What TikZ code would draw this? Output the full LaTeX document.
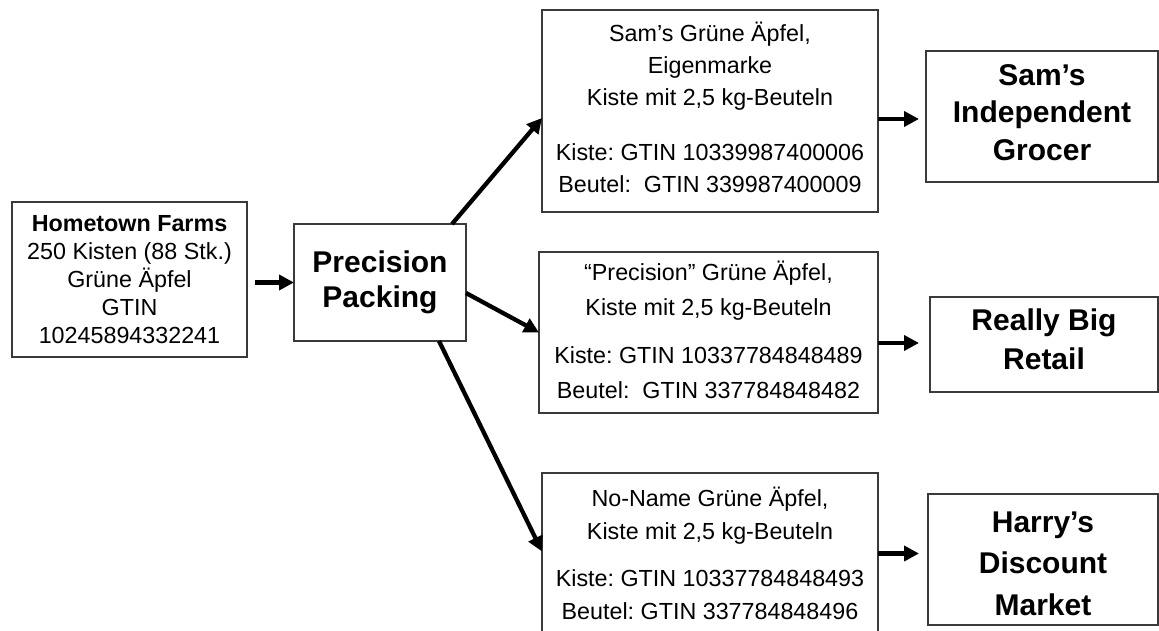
\documentclass[tikz,border=0pt]{standalone}
\usepackage{fontspec}
\setmainfont{Liberation Sans}
\usetikzlibrary{arrows.meta}
\definecolor{boxgray}{HTML}{3A3A3A}
\frenchspacing

\begin{document}
\begin{tikzpicture}[x=1pt,y=-1pt,
  box/.style={draw=boxgray, line width=1.3pt, inner sep=0pt, outer sep=0pt},
  txt/.style={inner sep=0pt, align=center, text=black},
  plain/.style={txt, font=\fontsize{23.3}{#1}\selectfont},
  shop/.style={txt, font=\fontsize{30}{#1}\selectfont\bfseries},
  arr/.style={line width=4.3pt, -{Triangle[length=15pt,width=15pt]}},
]
\clip (0,0) rectangle (1159,631);
\fill[white] (0,0) rectangle (1159,631);

% grower and packer
\node[box, minimum width=235pt, minimum height=155pt] (farm) at (129.5,279.5) {};
\node[plain=28] (farm-t) at (farm.center)
  {\textbf{Hometown Farms}\\250 Kisten (88 Stk.)\\Grüne Äpfel\\GTIN\\10245894332241};
\node[box, minimum width=172pt, minimum height=117pt] (pack) at (380,282.5) {};
\node[shop=35] (pack-t) at (pack.center) {Precision\\Packing};

% packed products
\node[box, minimum width=336pt, minimum height=202pt] (samp) at (710,111) {};
\node[plain=32] (samp-t) at ([yshift=4pt]samp.center)
  {Sam’s Grüne Äpfel,\\Eigenmarke\\Kiste mit 2,5 kg-Beuteln\\[23pt]
   Kiste: GTIN 10339987400006\\Beutel:\ \ GTIN 339987400009};
\node[box, minimum width=339pt, minimum height=161pt] (precp) at (708.5,332.5) {};
\node[plain=35] (precp-t) at ([yshift=3pt]precp.center)
  {“Precision” Grüne Äpfel,\\Kiste mit 2,5 kg-Beuteln\\[13pt]
   Kiste: GTIN 10337784848489\\Beutel:\ \ GTIN 337784848482};
\node[box, minimum width=336pt, minimum height=161pt] (nonp) at (710,553.5) {};
\node[plain=33] (nonp-t) at (nonp.center)
  {No-Name Grüne Äpfel,\\Kiste mit 2,5 kg-Beuteln\\[14pt]
   Kiste: GTIN 10337784848493\\Beutel: GTIN 337784848496};

% retailers
\node[box, minimum width=232pt, minimum height=131pt] (samg) at (1042,116.5) {};
\node[shop=37.5] (samg-t) at ([yshift=4pt]samg.center) {Sam’s\\Independent\\Grocer};
\node[box, minimum width=228pt, minimum height=95pt] (rbr) at (1044,344.5) {};
\node[shop=39] (rbr-t) at ([yshift=5pt]rbr.center) {Really Big\\Retail};
\node[box, minimum width=230pt, minimum height=131pt] (harry) at (1043,559.5) {};
\node[shop=41.5] (harry-t) at ([yshift=-4pt]harry.center) {Harry’s\\Discount\\Market};

% flow of goods
\draw[arr, shorten <=8pt] (farm.east |- pack.west) -- (pack.west);
\draw[arr] ([xshift=-14pt]pack.north east) -- ([yshift=-7pt]samp.west);
\draw[arr] ([yshift=-10.5pt]pack.east) -- (precp.west);
\draw[arr] ([xshift=-27pt]pack.south east) -- ([yshift=2pt]nonp.west);

\draw[arr, shorten >=7pt] ([yshift=-8pt]samp.east) -- ([yshift=-8pt]samp.east -| samg.west);
\draw[arr, shorten >=11pt] ([yshift=-10.5pt]precp.east) -- ([yshift=-10.5pt]precp.east -| rbr.west);
\draw[arr, shorten >=9pt] (nonp.east) -- (nonp.east -| harry.west);
\end{tikzpicture}
\end{document}
